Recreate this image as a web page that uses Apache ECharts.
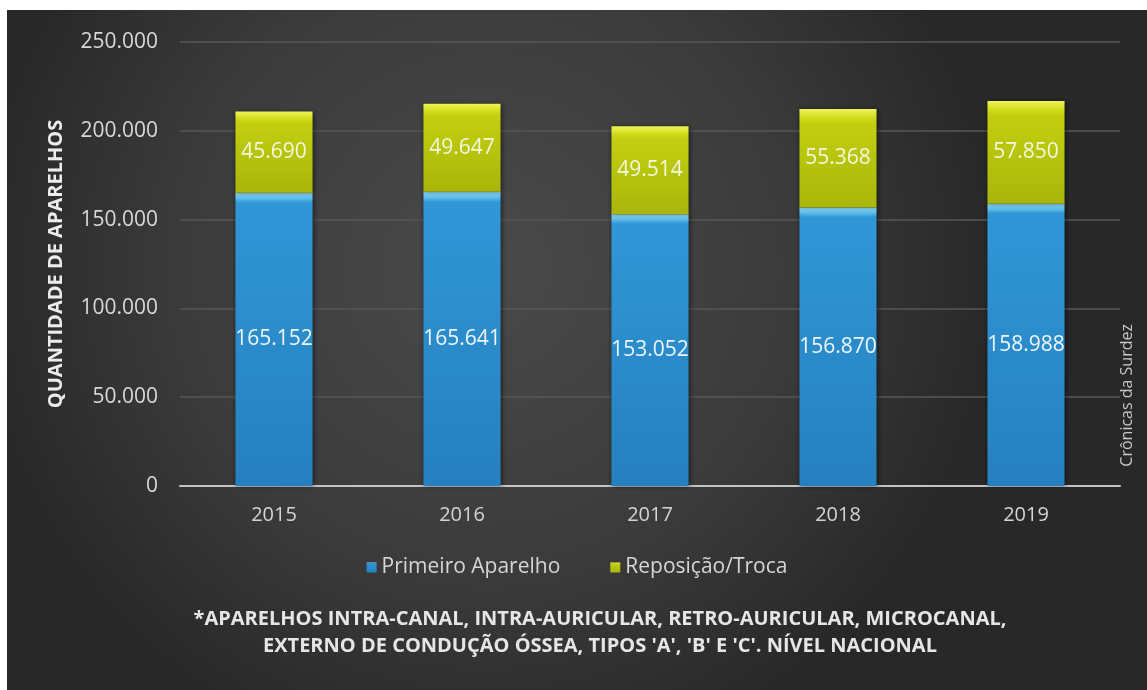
<!DOCTYPE html>
<html>
<head>
<meta charset="utf-8">
<script src="https://cdn.jsdelivr.net/npm/echarts@6/dist/echarts.min.js"></script>
<style>
html,body{margin:0;padding:0;background:#ffffff;width:1147px;height:690px;overflow:hidden;}
#chart{position:absolute;left:7px;top:10px;width:1140px;height:680px;}
</style>
</head>
<body>
<div id="chart"></div>
<script>
const categories = ['2015', '2016', '2017', '2018', '2019'];
const primeiroAparelho = [165152, 165641, 153052, 156870, 158988];
const reposicaoTroca = [45690, 49647, 49514, 55368, 57850];
const seriesNames = ['Primeiro Aparelho', 'Reposição/Troca'];
const yTicks = [0, 50000, 100000, 150000, 200000, 250000];
const yTitle = 'QUANTIDADE DE APARELHOS';
const footLine1 = "*APARELHOS INTRA-CANAL, INTRA-AURICULAR, RETRO-AURICULAR, MICROCANAL,";
const footLine2 = "EXTERNO DE CONDUÇÃO ÓSSEA, TIPOS 'A', 'B' E 'C'. NÍVEL NACIONAL";
const watermark = 'Crônicas da Surdez';

function fmt(v) {
  return String(v).replace(/\B(?=(\d{3})+(?!\d))/g, '.');
}

const FONT = 'Open Sans';
const chart = echarts.init(document.getElementById('chart'));

const blueGrad = new echarts.graphic.LinearGradient(0, 0, 0, 1, [
  {offset: 0, color: '#8fd8f5'},
  {offset: 0.02, color: '#5cbceb'},
  {offset: 0.035, color: '#3097d6'},
  {offset: 1, color: '#2680bf'}
]);
const yellowGrad = new echarts.graphic.LinearGradient(0, 0, 0, 1, [
  {offset: 0, color: '#eef55a'},
  {offset: 0.08, color: '#d2de1e'},
  {offset: 0.14, color: '#c2cf10'},
  {offset: 1, color: '#a9b60a'}
]);

chart.setOption({
  backgroundColor: new echarts.graphic.RadialGradient(0.42, 0.38, 0.75, [
    {offset: 0, color: '#4a4a4a'},
    {offset: 0.6, color: '#3b3b3b'},
    {offset: 1, color: '#282828'}
  ]),
  animation: false,
  grid: {left: 173, right: 27, top: 32, bottom: 204, containLabel: false},
  legend: {
    data: seriesNames,
    top: 542,
    left: 'center',
    itemWidth: 10,
    itemHeight: 10,
    itemGap: 50,
    icon: 'rect',
    textStyle: {color: '#d6d6d6', fontFamily: FONT, fontSize: 21}
  },
  xAxis: {
    type: 'category',
    data: categories,
    axisLine: {show: true, lineStyle: {color: '#c4c4c4', width: 2}},
    axisTick: {show: false},
    axisLabel: {color: '#d4d4d4', fontFamily: FONT, fontSize: 20, margin: 19}
  },
  yAxis: {
    type: 'value',
    min: yTicks[0],
    max: yTicks[yTicks.length - 1],
    interval: yTicks[1] - yTicks[0],
    name: yTitle,
    nameLocation: 'middle',
    nameGap: 114,
    nameRotate: 90,
    nameTextStyle: {color: '#ececec', fontFamily: FONT, fontWeight: 'bold', fontSize: 20},
    axisLine: {show: false},
    axisTick: {show: false},
    splitLine: {lineStyle: {color: '#575757', width: 1.5}},
    axisLabel: {color: '#d8d8d8', fontFamily: FONT, fontSize: 21, margin: 22, formatter: v => fmt(v)}
  },
  series: [
    {
      name: seriesNames[0],
      type: 'bar',
      stack: 'total',
      barWidth: '41%',
      data: primeiroAparelho,
      itemStyle: {color: blueGrad, shadowColor: 'rgba(0,0,0,0.55)', shadowBlur: 5, shadowOffsetX: 1},
      label: {show: true, position: 'inside', color: '#eef6fb', fontFamily: FONT, fontSize: 21, formatter: p => fmt(p.value)}
    },
    {
      name: seriesNames[1],
      type: 'bar',
      stack: 'total',
      barWidth: '41%',
      data: reposicaoTroca,
      itemStyle: {color: yellowGrad, shadowColor: 'rgba(0,0,0,0.55)', shadowBlur: 5, shadowOffsetX: 1},
      label: {show: true, position: 'inside', color: '#f4f7dc', fontFamily: FONT, fontSize: 21, formatter: p => fmt(p.value)}
    }
  ],
  graphic: [
    {
      type: 'text',
      left: 1112,
      top: 314,
      rotation: Math.PI / 2,
      style: {text: watermark, fill: '#c8c8c8', font: '16px "Open Sans"'}
    },
    {
      type: 'text',
      x: 593, y: 609,
      style: {text: footLine1, fill: '#e6e6e6', font: 'bold 20px "Open Sans"', textAlign: 'center', textVerticalAlign: 'middle'}
    },
    {
      type: 'text',
      x: 593, y: 636,
      style: {text: footLine2, fill: '#e6e6e6', font: 'bold 20px "Open Sans"', textAlign: 'center', textVerticalAlign: 'middle'}
    }
  ]
});
</script>
</body>
</html>
